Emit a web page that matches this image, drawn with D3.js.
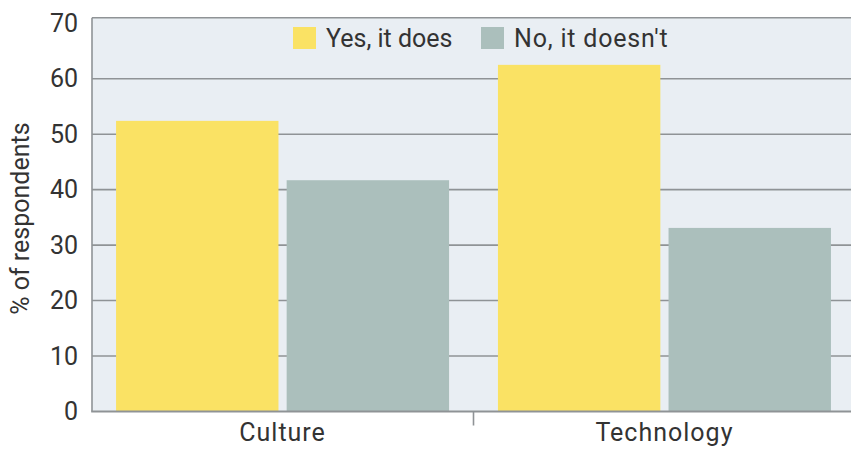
<!DOCTYPE html>
<html><head><meta charset="utf-8">
<script src="https://cdn.jsdelivr.net/npm/d3@7/dist/d3.min.js"></script>
<style>body{margin:0;background:#fff}svg{display:block}text{font-family:Roboto,sans-serif;fill:#333}</style>
</head><body><svg id="c" width="851" height="453"></svg>
<script>
const categories = ["Culture", "Technology"];
const seriesNames = ["Yes, it does", "No, it doesn't"];
const yesValues = [52.4, 62.5];
const noValues = [41.7, 33.1];
const yTicks = [0, 10, 20, 30, 40, 50, 60, 70];
const colors = ["#fae264", "#abbfbc"];

const svg = d3.select("#c");
const m = {l: 92, r: 0, t: 17.7, b: 41.5};
const W = 851, H = 453;
const x0 = d3.scaleBand().domain(categories).range([m.l, 855]).paddingInner(0.128).paddingOuter(0.063);
const x1 = d3.scaleBand().domain(seriesNames).range([0, x0.bandwidth()]).paddingInner(0.048);
const y = d3.scaleLinear().domain([0, 71]).range([H - m.b, m.t]);

svg.append("rect").attr("x", m.l).attr("y", m.t).attr("width", W - m.r - m.l).attr("height", y(0) - m.t).attr("fill", "#e9eef3");

// gridlines
svg.append("g").selectAll("line").data(yTicks.filter(d => d > 0 && d < 70)).join("line")
  .attr("x1", m.l).attr("x2", W).attr("y1", d => y(d)).attr("y2", d => y(d))
  .attr("stroke", "#8f9396").attr("stroke-width", 1.6);

const data = categories.map((c, i) => ({c, vals: [yesValues[i], noValues[i]]}));
svg.append("g").selectAll("g").data(data).join("g")
  .attr("transform", d => `translate(${x0(d.c)},0)`)
  .selectAll("rect").data(d => d.vals.map((v, j) => ({s: seriesNames[j], v, j}))).join("rect")
  .attr("x", d => x1(d.s)).attr("width", x1.bandwidth())
  .attr("y", d => y(d.v)).attr("height", d => y(0) - y(d.v))
  .attr("fill", d => colors[d.j]);

// frame
svg.append("line").attr("x1", m.l).attr("x2", W).attr("y1", m.t).attr("y2", m.t).attr("stroke", "#8f9396").attr("stroke-width", 1.6);
svg.append("line").attr("x1", m.l).attr("x2", m.l).attr("y1", m.t).attr("y2", y(0)).attr("stroke", "#8f9396").attr("stroke-width", 1.6);
svg.append("line").attr("x1", m.l - 0.8).attr("x2", W).attr("y1", y(0)).attr("y2", y(0)).attr("stroke", "#8f9396").attr("stroke-width", 2);

// y axis labels
const yAxis = d3.axisLeft(y).tickValues(yTicks).tickSize(0).tickPadding(14);
const ya = svg.append("g").attr("transform", `translate(${m.l},0)`).call(yAxis);
ya.select(".domain").remove();
ya.selectAll("text").attr("font-size", 25).attr("font-family", "Roboto").attr("fill", "#333");

// x axis
const xa = svg.append("g").attr("transform", `translate(0,${y(0)})`).call(d3.axisBottom(x0).tickSize(0).tickPadding(12));
xa.select(".domain").remove();
xa.selectAll("text").attr("font-size", 25).attr("font-family", "Roboto").attr("fill", "#333").attr("letter-spacing", 1);
// divider tick between categories
const mid = (x0(categories[0]) + x0.bandwidth() + x0(categories[1])) / 2;
svg.append("line").attr("x1", mid).attr("x2", mid).attr("y1", y(0)).attr("y2", y(0) + 14).attr("stroke", "#8f9396").attr("stroke-width", 1.6);

// y title
svg.append("text").attr("transform", `translate(29,${(m.t + y(0)) / 2 + 4}) rotate(-90)`)
  .attr("text-anchor", "middle").attr("font-size", 25).text("% of respondents");

// legend
const legX = [293, 481];
const lg = svg.append("g").selectAll("g").data(seriesNames).join("g").attr("transform", (d, i) => `translate(${legX[i]},27)`);
lg.append("rect").attr("width", 23).attr("height", 22).attr("fill", (d, i) => colors[i]);
lg.append("text").attr("x", 33).attr("y", 20).attr("font-size", 25).attr("letter-spacing", (d, i) => i ? 0.8 : 0).text(d => d);
</script></body></html>
